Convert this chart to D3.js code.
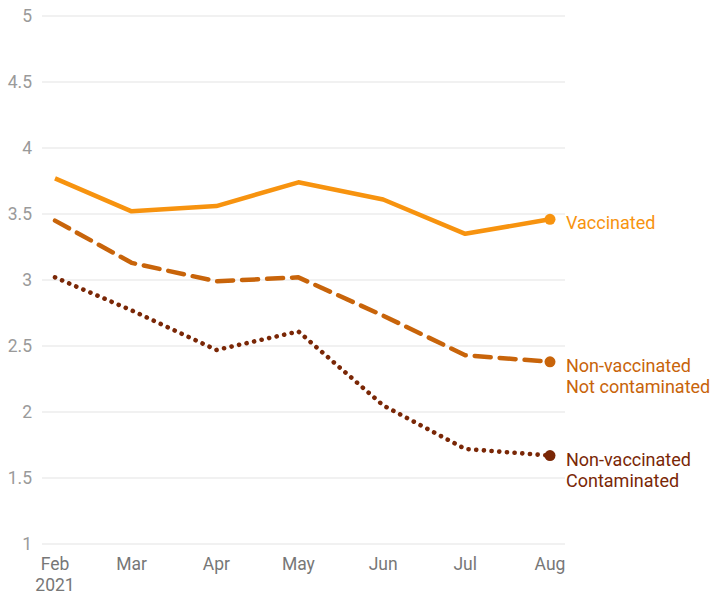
<!DOCTYPE html>
<html>
<head>
<meta charset="utf-8">
<script src="https://cdn.jsdelivr.net/npm/d3@7"></script>
<style>
  body { margin: 0; background: #fff; }
  svg text { font-family: Roboto, "Noto Sans", sans-serif; }
</style>
</head>
<body>
<div id="chart"></div>
<script>
var months = ["Feb", "Mar", "Apr", "May", "Jun", "Jul", "Aug"];
var dates = ["2021-02-01", "2021-03-01", "2021-04-01", "2021-05-01", "2021-06-01", "2021-07-01", "2021-08-01"];
var yTicks = [1, 1.5, 2, 2.5, 3, 3.5, 4, 4.5, 5];
var vaccinated = [3.77, 3.52, 3.56, 3.74, 3.61, 3.35, 3.46];
var notContaminated = [3.45, 3.13, 2.99, 3.02, 2.73, 2.43, 2.38];
var contaminated = [3.02, 2.77, 2.47, 2.61, 2.05, 1.72, 1.67];

var width = 712,
    height = 594;

var series = [
    { name: ["Vaccinated"], values: vaccinated, color: "#f7930f", dash: null, w: 4.5 },
    { name: ["Non-vaccinated", "Not contaminated"], values: notContaminated, color: "#c8640a", dash: "16,9", w: 4.5 },
    { name: ["Non-vaccinated", "Contaminated"], values: contaminated, color: "#7a2706", dash: "0.1,7.6", w: 4.6 }
];

var parse = d3.utcParse("%Y-%m-%d");
var dt = dates.map(parse);

var svg = d3.select("#chart").append("svg")
    .attr("width", width)
    .attr("height", height);

var x = d3.scaleUtc()
    .domain(d3.extent(dt))
    .range([55, 550]);

var y = d3.scaleLinear()
    .domain([1, 5])
    .range([544, 16]);

// grid
svg.append("g")
    .selectAll("line")
    .data(yTicks)
    .enter().append("line")
    .attr("x1", 42)
    .attr("x2", 565)
    .attr("y1", function (d) { return y(d); })
    .attr("y2", function (d) { return y(d); })
    .attr("stroke", "#e3e3e3")
    .attr("stroke-width", 1.2);

// y labels
svg.append("g")
    .selectAll("text")
    .data(yTicks)
    .enter().append("text")
    .attr("x", 32)
    .attr("y", function (d) { return y(d); })
    .attr("dy", "0.35em")
    .attr("text-anchor", "end")
    .attr("fill", "#9a9a9a")
    .style("font-size", "17.5px")
    .text(function (d) { return d; });

// x labels
svg.append("g")
    .selectAll("text")
    .data(months)
    .enter().append("text")
    .attr("x", function (d, i) { return x(dt[i]); })
    .attr("y", 570)
    .attr("text-anchor", "middle")
    .attr("fill", "#777")
    .style("font-size", "17.5px")
    .text(function (d) { return d; });

svg.append("text")
    .attr("x", x(dt[0]))
    .attr("y", 591)
    .attr("text-anchor", "middle")
    .attr("fill", "#777")
    .style("font-size", "17.5px")
    .text("2021");

var line = d3.line()
    .x(function (d, i) { return x(dt[i]); })
    .y(function (d) { return y(d); });

series.slice().reverse().forEach(function (s) {
    svg.append("path")
        .datum(s.values)
        .attr("d", line)
        .attr("fill", "none")
        .attr("stroke", s.color)
        .attr("stroke-width", s.w)
        .attr("stroke-linecap", s.dash ? "round" : "butt")
        .attr("stroke-linejoin", "round")
        .attr("stroke-dasharray", s.dash);

    var last = s.values[s.values.length - 1];
    svg.append("circle")
        .attr("cx", x(dt[dt.length - 1]))
        .attr("cy", y(last))
        .attr("r", 5.5)
        .attr("fill", s.color);

    var t = svg.append("text")
        .attr("y", y(last) + 5)
        .attr("fill", s.color)
        .style("font-size", "18px");
    s.name.forEach(function (n, i) {
        t.append("tspan")
            .attr("x", 566)
            .attr("dy", i === 0 ? 5 : 21.5)
            .text(n);
    });
});
</script>
</body>
</html>
